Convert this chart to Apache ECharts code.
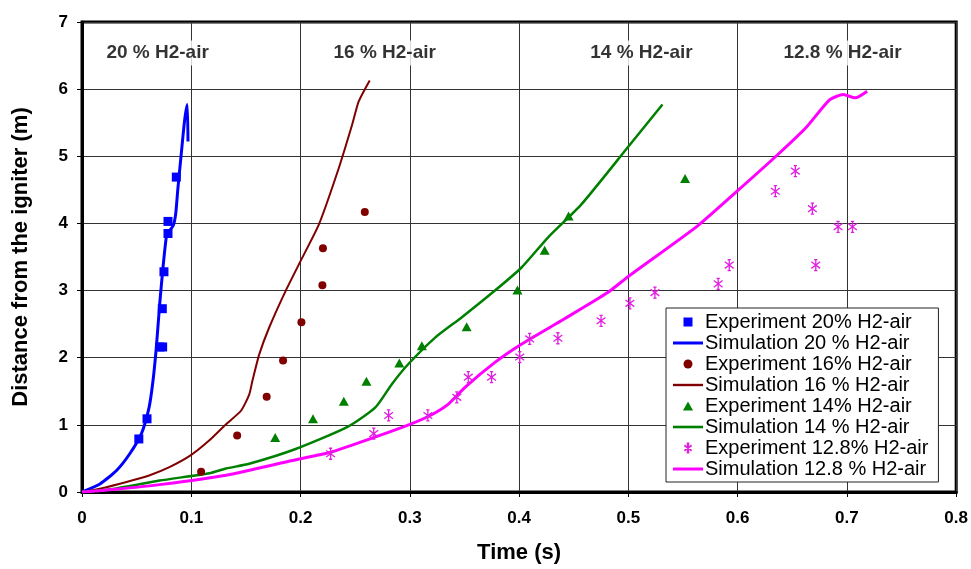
<!DOCTYPE html>
<html>
<head>
<meta charset="utf-8">
<script src="https://cdn.jsdelivr.net/npm/echarts@6/dist/echarts.min.js"></script>
<style>
  html, body { margin: 0; padding: 0; background: #fff; }
  #chart { width: 971px; height: 569px; }
</style>
</head>
<body>
<div id="chart"></div>
<script>
// Flame position vs time for four hydrogen-air mixtures: [time (s), distance (m)]
const exp20 = [[0.052,0.79],[0.0595,1.09],[0.0712,2.16],[0.0738,2.16],[0.0735,2.73],[0.075,3.28],[0.0787,3.85],[0.0787,4.03],[0.0863,4.69]];
const sim20 = [[0,0],[0.0164,0.12],[0.0316,0.32],[0.0437,0.57],[0.0544,0.87],[0.0614,1.26],[0.065,1.66],[0.068,2.15],[0.0711,2.8],[0.0741,3.34],[0.0771,3.79],[0.0787,3.86],[0.0835,3.97],[0.0858,4.15],[0.0878,4.53],[0.0908,5.03],[0.0938,5.52],[0.0963,5.77],[0.097,5.22]];

const exp16 = [[0.109,0.30],[0.142,0.84],[0.169,1.42],[0.184,1.96],[0.2008,2.53],[0.220,3.08],[0.2205,3.63],[0.2588,4.17]];
const sim16 = [[0,0],[0.0164,0.05],[0.0407,0.15],[0.062,0.25],[0.08,0.37],[0.0993,0.545],[0.1166,0.77],[0.1318,1.01],[0.1455,1.21],[0.153,1.45],[0.156,1.66],[0.1622,2.05],[0.1713,2.45],[0.1865,3.0],[0.2016,3.49],[0.2169,3.99],[0.2351,4.83],[0.2472,5.47],[0.2533,5.82],[0.2633,6.13]];

const exp14 = [[0.1768,0.81],[0.2114,1.09],[0.2396,1.35],[0.2603,1.65],[0.2904,1.92],[0.311,2.18],[0.352,2.46],[0.3985,3.01],[0.4234,3.60],[0.4453,4.11],[0.5519,4.67]];
const sim14 = [[0,0],[0.03,0.05],[0.071,0.17],[0.1166,0.28],[0.1318,0.35],[0.153,0.42],[0.1955,0.64],[0.243,0.97],[0.2685,1.26],[0.2837,1.61],[0.2989,1.91],[0.3232,2.3],[0.3474,2.6],[0.3779,3.0],[0.402,3.34],[0.4264,3.79],[0.4568,4.28],[0.4993,5.13],[0.5312,5.77]];

const exp128 = [[0.2275,0.57],[0.267,0.87],[0.2806,1.14],[0.3165,1.14],[0.343,1.41],[0.3535,1.71],[0.3748,1.71],[0.4006,2.01],[0.4097,2.28],[0.4355,2.29],[0.475,2.55],[0.5014,2.81],[0.5243,2.97],[0.5822,3.10],[0.5923,3.38],[0.6345,4.48],[0.6528,4.78],[0.6684,4.22],[0.6715,3.38],[0.6919,3.95],[0.7051,3.95]];
const sim128 = [[0,0],[0.03,0.04],[0.071,0.11],[0.1318,0.25],[0.1925,0.47],[0.229,0.6],[0.2685,0.82],[0.2989,1.0],[0.3186,1.14],[0.3353,1.31],[0.3505,1.56],[0.3779,1.93],[0.4021,2.2],[0.4416,2.58],[0.4811,2.97],[0.5,3.21],[0.5631,3.96],[0.5995,4.48],[0.6371,5.03],[0.6622,5.42],[0.6841,5.84],[0.6967,5.92],[0.7076,5.87],[0.7185,5.97]];

// Mixture captions across the top of the plot
const bandTexts = ['20 % H2-air', '16 % H2-air', '14 % H2-air', '12.8 % H2-air'];
const bandTimes = [0.0692, 0.277, 0.512, 0.696];
const bandDistance = 6.54;

const seriesNames = [
  'Experiment 20% H2-air', 'Simulation 20 % H2-air',
  'Experiment 16% H2-air', 'Simulation 16 % H2-air',
  'Experiment 14% H2-air', 'Simulation 14 % H2-air',
  'Experiment 12.8% H2-air', 'Simulation 12.8 % H2-air'
];

const FONT = '"Liberation Sans", Arial, sans-serif';

// Marker shapes (path symbols keep their aspect ratio)
const SQUARE = 'path://M0,0L10,0L10,10L0,10Z';
const TRIANGLE = 'path://M5,0L10,9L0,9Z';
const CIRCLE = 'circle';
const ASTERISK = 'path://M4,0L4,10M2.5,0L5.5,0M2.5,10L5.5,10M0,2L8,8M8,2L0,8';
const stroke = w => 'path://M0,0L30,0L30,' + w + 'L0,' + w + 'Z';

function expSeries(name, data, color, symbol, size, extra) {
  return Object.assign({
    name, type: 'scatter', data, symbol, symbolSize: size, symbolKeepAspect: true,
    itemStyle: { color, opacity: 1 }, z: 4
  }, extra || {});
}
function simSeries(name, data, color, width) {
  return {
    name, type: 'line', data, symbol: 'none', showSymbol: false,
    smooth: 0.2, lineStyle: { color, width }, itemStyle: { color }, z: 3
  };
}

const legendIcons = [SQUARE, stroke(3), CIRCLE, stroke(2.4), TRIANGLE, stroke(2.6), ASTERISK, stroke(3)];

const chart = echarts.init(document.getElementById('chart'), null, { renderer: 'canvas' });
chart.setOption({
  animation: false,
  backgroundColor: '#fff',
  textStyle: { fontFamily: FONT },
  grid: {
    left: 82, right: 11, top: 22, bottom: 74,
    show: true, borderColor: '#000', borderWidth: 3, backgroundColor: 'transparent'
  },
  xAxis: {
    type: 'value', min: 0, max: 0.8, interval: 0.1,
    name: 'Time (s)', nameLocation: 'middle', nameGap: 50,
    nameTextStyle: { fontFamily: FONT, fontWeight: 'bold', fontSize: 22, color: '#000' },
    axisLine: { show: true, onZero: false, lineStyle: { color: '#000', width: 3 } },
    axisTick: { show: true, length: 5, lineStyle: { color: '#000', width: 1 } },
    axisLabel: { fontFamily: FONT, fontWeight: 'bold', fontSize: 17, color: '#000', margin: 18,
      formatter: v => (Math.round(v * 10) / 10).toString() },
    splitLine: { show: true, lineStyle: { color: '#333', width: 1 } }
  },
  yAxis: {
    type: 'value', min: 0, max: 7, interval: 1,
    name: 'Distance from the igniter (m)', nameLocation: 'middle', nameGap: 50,
    nameTextStyle: { fontFamily: FONT, fontWeight: 'bold', fontSize: 22, color: '#000' },
    axisLine: { show: true, onZero: false, lineStyle: { color: '#000', width: 3 } },
    axisTick: { show: true, length: 5, lineStyle: { color: '#000', width: 1 } },
    axisLabel: { fontFamily: FONT, fontWeight: 'bold', fontSize: 17, color: '#000', margin: 14 },
    splitLine: { show: true, lineStyle: { color: '#333', width: 1 } }
  },
  legend: {
    data: seriesNames.map((n, i) => ({ name: n, icon: legendIcons[i] })),
    orient: 'vertical',
    left: 666, top: 308,
    padding: [4, 10, 3, 7],
    itemGap: 1,
    itemWidth: 30, itemHeight: 9,
    symbolKeepAspect: true,
    backgroundColor: '#fff',
    borderColor: '#222', borderWidth: 1,
    textStyle: { fontFamily: FONT, fontSize: 20, color: '#000', lineHeight: 20, padding: [0, 0, 0, -3] },
    selectedMode: false
  },
  series: [
    expSeries(seriesNames[0], exp20, '#0000FF', SQUARE, 9),
    simSeries(seriesNames[1], sim20, '#0000FF', 3),
    expSeries(seriesNames[2], exp16, '#800000', CIRCLE, 8),
    simSeries(seriesNames[3], sim16, '#800000', 2),
    expSeries(seriesNames[4], exp14, '#008000', TRIANGLE, 10),
    simSeries(seriesNames[5], sim14, '#008000', 2.5),
    expSeries(seriesNames[6], exp128, '#E020E0', ASTERISK, 11, {
      itemStyle: { color: 'transparent', borderColor: '#E020E0', borderWidth: 1.3, opacity: 1 }
    }),
    simSeries(seriesNames[7], sim128, '#FF00FF', 3),
    {
      name: 'captions', type: 'scatter', symbolSize: 0, silent: true, z: 6,
      data: bandTexts.map((t, i) => ({ name: t, value: [bandTimes[i], bandDistance] })),
      label: {
        show: true, position: 'inside', formatter: p => p.name,
        fontFamily: FONT, fontWeight: 'bold', fontSize: 19, color: '#000',
        backgroundColor: '#fff', padding: [3, 4]
      }
    }
  ]
});
</script>
</body>
</html>
